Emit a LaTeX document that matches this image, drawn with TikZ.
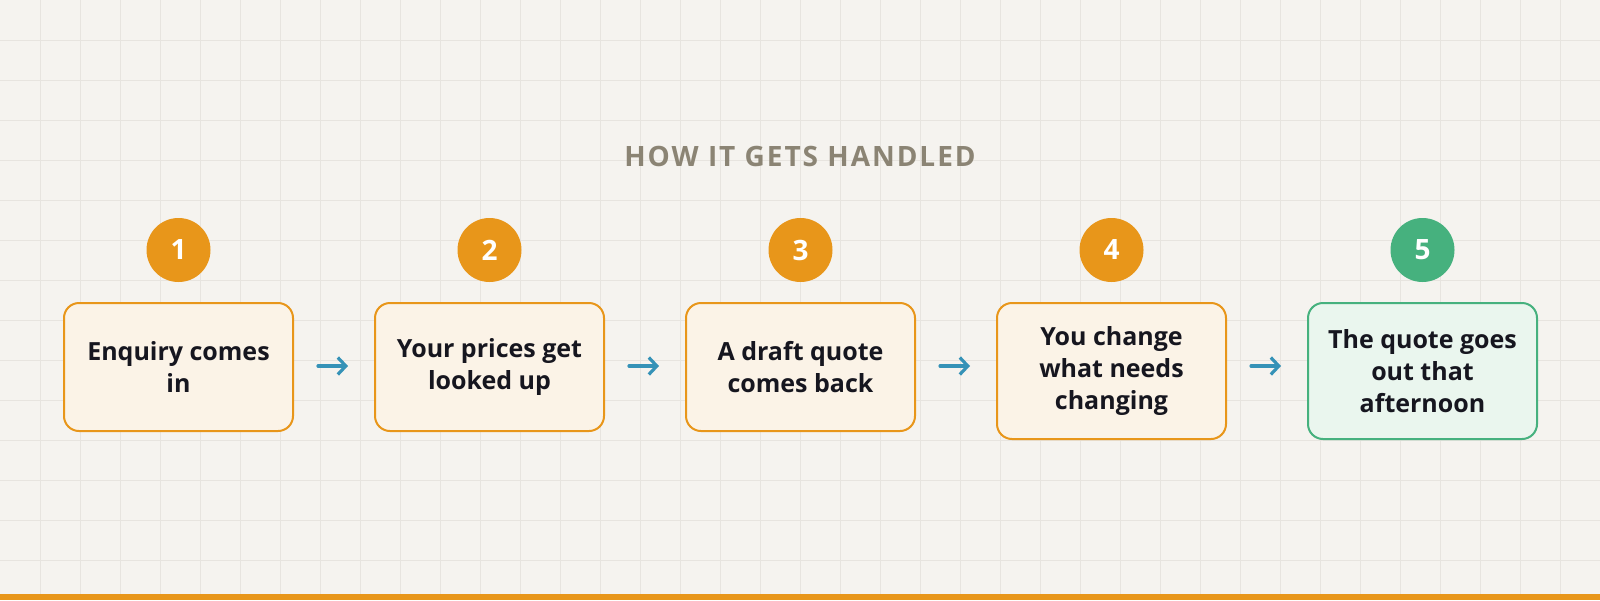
\documentclass[tikz,border=0pt]{standalone}
\usepackage{fontspec}
\setmainfont{Open Sans}
\newfontfamily\titlefont[LetterSpace=7]{Open Sans}
\usepackage{tikz}
\usetikzlibrary{arrows.meta, calc}

\definecolor{paper}{HTML}{F5F3EF}
\definecolor{gridgray}{HTML}{E7E4DF}
\definecolor{amber}{HTML}{E8961A}
\definecolor{amberfill}{HTML}{FBF3E7}
\definecolor{leaf}{HTML}{46B17E}
\definecolor{leaffill}{HTML}{EAF6EE}
\definecolor{ink}{HTML}{16161F}
\definecolor{titlegray}{HTML}{8B8474}
\definecolor{flowblue}{HTML}{3592B7}

\tikzset{
  stepbox/.style={draw=amber, fill=amberfill, line width=2pt, rounded corners=15pt,
    minimum width=229pt, minimum height=128pt, anchor=north, align=center,
    text=ink, font=\bfseries\fontsize{25}{32}\selectfont},
  tallbox/.style={stepbox, minimum height=136pt},
  donebox/.style={tallbox, draw=leaf, fill=leaffill},
  badge/.style={circle, fill=amber, minimum size=64pt, inner sep=0pt,
    text=white, font=\bfseries\fontsize{28}{28}\selectfont},
  donebadge/.style={badge, fill=leaf},
  flow/.style={draw=flowblue, line width=3.2pt, line cap=round, line join=round,
    -{Straight Barb[length=8pt, width=17pt, line width=3.2pt]}}
}

\begin{document}
\begin{tikzpicture}[x=1pt, y=-1pt]

\fill[paper] (0,0) rectangle (1600,600);
\useasboundingbox (0,0) rectangle (1600,600);
\foreach \gx in {40,80,...,1560} \draw[gridgray, line width=1pt] (\gx,0) -- (\gx,600);
\foreach \gy in {40,80,...,560} \draw[gridgray, line width=1pt] (0,\gy) -- (1600,\gy);
\fill[amber] (0,594) rectangle (1600,600);

\node[anchor=base, text=titlegray, font=\titlefont\bfseries\fontsize{28}{28}\selectfont] (title) at (800,166) {HOW IT GETS HANDLED};

\node[badge] (n1) at (178.5,250) {1};
\node[badge] (n2) at (489.5,250) {2};
\node[badge] (n3) at (800.5,250) {3};
\node[badge] (n4) at (1111.5,250) {4};
\node[donebadge] (n5) at (1422.5,250) {5};

\node[stepbox] (b1) at (178.5,302) {Enquiry comes\\in};
\node[stepbox] (b2) at (489.5,302) {Your prices get\\looked up};
\node[stepbox] (b3) at (800.5,302) {A draft quote\\comes back};
\node[tallbox] (b4) at (1111.5,302) {You change\\what needs\\changing};
\node[donebox] (b5) at (1422.5,302) {The quote goes\\out that\\afternoon};

\draw[flow, shorten <=24pt, shorten >=26pt] ($(b1.north east)+(0,64)$) -- ($(b2.north west)+(0,64)$);
\draw[flow, shorten <=24pt, shorten >=26pt] ($(b2.north east)+(0,64)$) -- ($(b3.north west)+(0,64)$);
\draw[flow, shorten <=24pt, shorten >=26pt] ($(b3.north east)+(0,64)$) -- ($(b4.north west)+(0,64)$);
\draw[flow, shorten <=24pt, shorten >=26pt] ($(b4.north east)+(0,64)$) -- ($(b5.north west)+(0,64)$);

\end{tikzpicture}
\end{document}
